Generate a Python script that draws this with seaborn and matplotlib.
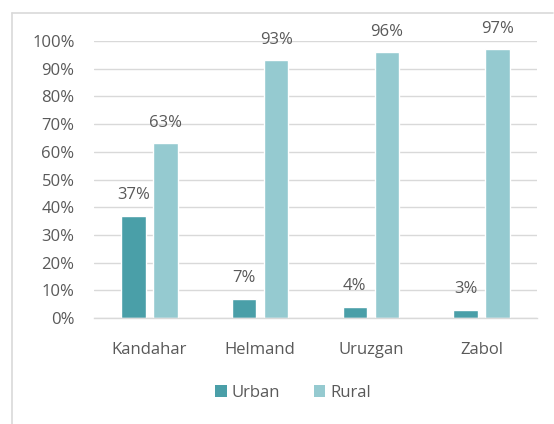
import matplotlib
matplotlib.use("Agg")
import matplotlib.pyplot as plt
import seaborn as sns
import pandas as pd
from matplotlib.lines import Line2D
from matplotlib.patches import Patch

provinces = ["Kandahar", "Helmand", "Uruzgan", "Zabol"]
urban = [37, 7, 4, 3]
rural = [63, 93, 96, 97]
series = ["Urban", "Rural"]
colors = ["#4A9FA8", "#95CAD0"]
yticks = [0, 10, 20, 30, 40, 50, 60, 70, 80, 90, 100]

df = pd.DataFrame({
    "Province": provinces * 2,
    "Area": ["Urban"] * len(provinces) + ["Rural"] * len(provinces),
    "Share": urban + rural,
})

sns.set_theme(style="white")
plt.rcParams["font.family"] = ["Open Sans", "DejaVu Sans"]

fig = plt.figure(figsize=(5.54, 4.24), dpi=100)
ax = fig.add_axes([94 / 554, 106 / 424, 443 / 554, 277 / 424])

sns.barplot(data=df, x="Province", y="Share", hue="Area", order=provinces,
            hue_order=series, palette=colors, width=0.578, gap=0.235,
            ax=ax, legend=False, saturation=1)

ax.set_ylim(0, 100)
ax.set_xlim(-0.5, len(provinces) - 0.5)
ax.set_yticks(yticks)
ax.set_yticklabels([f"{t}%" for t in yticks])
ax.set_xlabel("")
ax.set_ylabel("")
grid_c = "#D9D9D9"
ax.yaxis.grid(True, color=grid_c, linewidth=1.0)
ax.set_axisbelow(True)
for s in ["top", "right", "left"]:
    ax.spines[s].set_visible(False)
ax.spines["bottom"].set_color(grid_c)
ax.spines["bottom"].set_linewidth(1.0)
fs = 12
ax.tick_params(axis="both", length=0, labelsize=fs, labelcolor="#595959")
ax.tick_params(axis="x", pad=17)
ax.tick_params(axis="y", pad=14)

for cont in ax.containers:
    ax.bar_label(cont, labels=[f"{v:.0f}%" for v in cont.datavalues],
                 padding=9, fontsize=fs, color="#595959")

handles = [Patch(facecolor=c, edgecolor="none") for c in colors]
fig.legend(handles, series, loc="center", bbox_to_anchor=(293 / 554, 1 - 393 / 424),
           ncol=2, frameon=False, fontsize=fs, labelcolor="#595959",
           handlelength=0.7, handleheight=0.7, handletextpad=0.3, columnspacing=2.0)

# chart border (Excel chart area frame)
fig.add_artist(Line2D([12 / 554, 12 / 554], [0, 1 - 13 / 424], transform=fig.transFigure,
                      color="#D9D9D9", linewidth=1.2))
fig.add_artist(Line2D([12 / 554, 553 / 554], [1 - 13 / 424, 1 - 13 / 424], transform=fig.transFigure,
                      color="#D9D9D9", linewidth=1.2))

fig.savefig("out.png", dpi=100)
